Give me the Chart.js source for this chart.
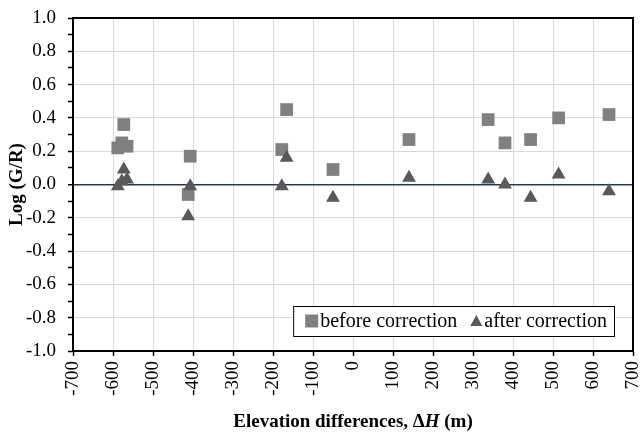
<!DOCTYPE html>
<html>
<head>
<meta charset="utf-8">
<script src="https://cdn.jsdelivr.net/npm/chart.js@4.4.0/dist/chart.umd.min.js"></script>
<style>
  html, body { margin: 0; padding: 0; background: #fff; }
  #wrap { width: 644px; height: 434px; }
</style>
</head>
<body>
<div id="wrap"><canvas id="grafico"></canvas></div>
<script>
// valores
const beforeX = [-588, -578, -565, -573, -412, -407, -178, -166, -50, 140, 338, 380, 444, 514, 640];
const beforeY = [0.22, 0.25, 0.23, 0.36, -0.06, 0.17, 0.21, 0.45, 0.09, 0.27, 0.39, 0.25, 0.27, 0.40, 0.42];
const afterX = [-588, -578, -565, -573, -412, -407, -178, -166, -50, 140, 338, 380, 444, 514, 640];
const afterY = [-0.01, 0.02, 0.03, 0.09, -0.19, -0.01, -0.01, 0.16, -0.08, 0.04, 0.03, 0.00, -0.08, 0.06, -0.04];
const seriesNames = ['before correction', 'after correction'];
const xTitleParts = ['Elevation differences, \u0394', 'H', ' (m)'];
const yTitle = 'Log (G/R)';

const serif = "'Liberation Serif', 'Times New Roman', serif";
const toPoints = (xs, ys) => xs.map((x, i) => ({ x, y: ys[i] }));

const extras = {
  id: 'extras',
  beforeDatasetsDraw(chart) {
    const { ctx, chartArea: a } = chart;
    ctx.save();
    ctx.strokeStyle = '#000';
    ctx.lineWidth = 2;
    ctx.strokeRect(a.left, a.top, a.right - a.left, a.bottom - a.top);
    ctx.restore();
  },
  afterDatasetsDraw(chart) {
    const { ctx, chartArea: a } = chart;
    const ds = chart.data.datasets;
    ctx.save();
    ctx.font = `20px ${serif}`;
    const w1 = ctx.measureText(ds[0].label).width;
    const w2 = ctx.measureText(ds[1].label).width;
    const boxW = 12 + 13 + 2 + w1 + 13 + 12 + 2 + w2 + 7;
    const right = a.right - 19, bottom = a.bottom - 15, h = 30;
    const left = right - boxW, top = bottom - h, cy = top + h / 2;
    ctx.fillStyle = '#fff';
    ctx.fillRect(left, top, boxW, h);
    ctx.strokeStyle = '#000';
    ctx.lineWidth = 1;
    ctx.strokeRect(left + 0.5, top + 0.5, boxW, h);
    let x = left + 12;
    ctx.fillStyle = ds[0].backgroundColor;
    ctx.fillRect(x, cy - 6.5, 13, 13);
    x += 15;
    ctx.fillStyle = '#000';
    ctx.textBaseline = 'middle';
    ctx.fillText(ds[0].label, x, cy + 1);
    x += w1 + 13;
    ctx.fillStyle = ds[1].backgroundColor;
    ctx.beginPath();
    ctx.moveTo(x + 6, cy - 6);
    ctx.lineTo(x + 12, cy + 5);
    ctx.lineTo(x, cy + 5);
    ctx.closePath();
    ctx.fill();
    x += 14;
    ctx.fillStyle = '#000';
    ctx.fillText(ds[1].label, x, cy + 1);
    ctx.restore();
  },
  afterDraw(chart) {
    const { ctx, chartArea: a } = chart;
    ctx.save();
    const fonts = [`bold 19px ${serif}`, `italic bold 19px ${serif}`, `bold 19px ${serif}`];
    const widths = xTitleParts.map((t, i) => { ctx.font = fonts[i]; return ctx.measureText(t).width; });
    let x = (a.left + a.right) / 2 - widths.reduce((s, w) => s + w, 0) / 2;
    ctx.fillStyle = '#000';
    ctx.textBaseline = 'alphabetic';
    xTitleParts.forEach((t, i) => {
      ctx.font = fonts[i];
      ctx.fillText(t, x, 427);
      x += widths[i];
    });
    ctx.restore();
  }
};

const tenth = v => Math.round(v * 10);

new Chart(document.getElementById('grafico'), {
  type: 'scatter',
  data: {
    datasets: [
      {
        label: seriesNames[0],
        data: toPoints(beforeX, beforeY),
        pointStyle: 'rect',
        pointRadius: 9,
        pointHoverRadius: 9,
        backgroundColor: '#808080',
        borderWidth: 0,
        order: 1
      },
      {
        label: seriesNames[1],
        data: toPoints(afterX, afterY),
        pointStyle: 'triangle',
        pointRadius: 8,
        pointHoverRadius: 8,
        backgroundColor: '#595959',
        borderWidth: 0,
        order: 0
      }
    ]
  },
  options: {
    responsive: true,
    maintainAspectRatio: false,
    animation: false,
    layout: { padding: { left: 6, right: 11, top: 18, bottom: 0 } },
    plugins: {
      legend: { display: false },
      tooltip: { enabled: false }
    },
    scales: {
      x: {
        type: 'linear',
        min: -700,
        max: 700,
        afterFit: s => {
          s.height = 83;
          s.paddingLeft = 0; s.paddingRight = 0; s.paddingTop = 0; s.paddingBottom = 0;
        },
        ticks: {
          stepSize: 100,
          minRotation: 90,
          maxRotation: 90,
          autoSkip: false,
          padding: 5,
          color: '#000',
          font: { family: serif, size: 19 }
        },
        grid: { color: '#d9d9d9', tickColor: '#000', tickLength: 5, tickWidth: 1.5 },
        border: { color: '#000', width: 2 }
      },
      y: {
        min: -1,
        max: 1,
        afterFit: s => {
          s.width = 67;
          s.paddingLeft = 0; s.paddingRight = 0; s.paddingTop = 0; s.paddingBottom = 0;
        },
        title: {
          display: true,
          text: yTitle,
          color: '#000',
          padding: { top: 0, bottom: 0 },
          font: { family: serif, size: 19, weight: 'bold' }
        },
        ticks: {
          stepSize: 0.1,
          autoSkip: false,
          padding: 12,
          color: '#000',
          font: { family: serif, size: 19 },
          callback: v => tenth(v) % 2 === 0 ? v.toFixed(1) : ''
        },
        grid: {
          color: c => tenth(c.tick.value) === 0 ? '#1F3864' : (tenth(c.tick.value) % 2 === 0 ? '#d9d9d9' : 'rgba(0,0,0,0)'),
          lineWidth: c => tenth(c.tick.value) === 0 ? 1.5 : 1,
          tickColor: '#000',
          tickLength: 5,
          tickWidth: 1.5
        },
        border: { color: '#000', width: 2 }
      }
    }
  },
  plugins: [extras]
});
</script>
</body>
</html>
